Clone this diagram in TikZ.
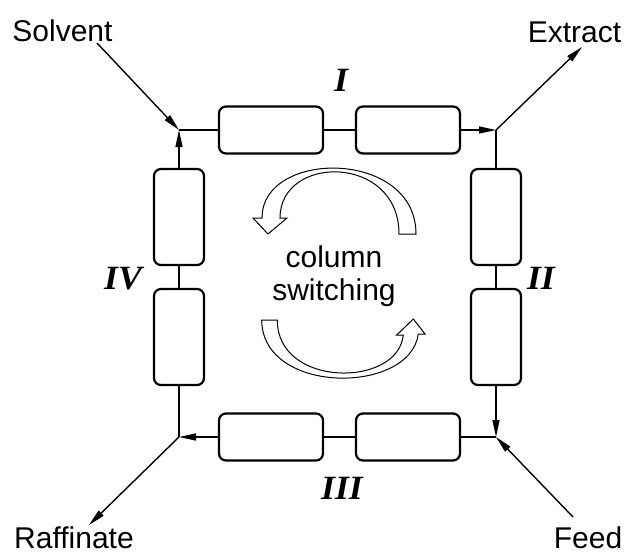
\documentclass[tikz,border=0pt]{standalone}
\usepackage{fontspec}
\setmainfont{Liberation Sans}
\newfontfamily\romanf{Liberation Serif}
\usetikzlibrary{arrows.meta}
\tikzset{
  hbox/.style={draw, rounded corners=7pt, line width=2.2pt, minimum width=104pt, minimum height=47pt, inner sep=0pt},
  vbox/.style={draw, rounded corners=7pt, line width=2.2pt, minimum width=50pt, minimum height=96pt, inner sep=0pt},
  conn/.style={line width=1.4pt},
  flow/.style={line width=1.4pt, -{Triangle[length=17pt,width=7pt]}},
  lbl/.style={font=\fontsize{30}{34}\selectfont, inner sep=0pt, anchor=base},
  zone/.style={font=\fontsize{34}{38}\selectfont\romanf\bfseries\itshape, inner sep=0pt, anchor=base, xscale=1.05},
  swarrow/.style={draw, line width=1pt, fill=white, line join=miter}
}
\begin{document}
\begin{tikzpicture}[x=1pt,y=-1pt]
\useasboundingbox (0,0) rectangle (624,554);
% junctions
\coordinate (TL) at (179,130);
\coordinate (TR) at (496,130);
\coordinate (BL) at (179,437);
\coordinate (BR) at (496,437);
% columns
\node[hbox] (t1) at (271,130) {};
\node[hbox] (t2) at (408,130) {};
\node[hbox] (b1) at (271,437) {};
\node[hbox] (b2) at (408,437) {};
\node[vbox] (l1) at (179,217) {};
\node[vbox] (l2) at (179,337) {};
\node[vbox] (r1) at (496,217) {};
\node[vbox] (r2) at (496,337) {};
% loop connectors
\draw[conn] (TL) -- (t1.west);
\draw[conn] (t1.east) -- (t2.west);
\draw[flow] (t2.east) -- (TR);
\draw[conn] (TR) -- (r1.north);
\draw[conn] (r1.south) -- (r2.north);
\draw[flow] (r2.south) -- (BR);
\draw[conn] (BR) -- (b2.east);
\draw[conn] (b2.west) -- (b1.east);
\draw[flow] (b1.west) -- (BL);
\draw[conn] (BL) -- (l2.south);
\draw[conn] (l2.north) -- (l1.south);
\draw[flow] (l1.north) -- (TL);
% external streams
\node[lbl] (solvent) at (62.5,41) {Solvent};
\node[lbl] (extract) at (574.5,42) {Extract};
\node[lbl] (raffinate) at (74,548) {Raffinate};
\node[lbl] (feed) at (588,548) {Feed};
\coordinate (sol) at (97,43);
\coordinate (ext) at (582,47);
\coordinate (raf) at (89,525);
\coordinate (fee) at (573,517);
\draw[flow] (sol) -- (TL);
\draw[flow] (TR) -- (ext);
\draw[flow] (BL) -- (raf);
\draw[flow] (fee) -- (BR);
% zone labels
\node[zone] (zI) at (341,91) {I};
\node[zone] (zII) at (541,289) {II};
\node[zone] (zIII) at (342,499) {III};
\node[zone] (zIV) at (123,289) {IV};
% column switching
\node[lbl] (cs1) at (334,267) {column};
\node[lbl] (cs2) at (334,300) {switching};
% curved arrows
\draw[swarrow] (399,234) -- (416,234) .. controls (416,149) and (262,149) .. (262,218)
  -- (253,218) -- (268,234) -- (287,218) -- (280,218)
  .. controls (280,154) and (399,154) .. (399,234) -- cycle;
\draw[swarrow] (261.7,320) .. controls (262,395) and (410,395) .. (418.3,334)
  -- (425,334) -- (413.3,319) -- (396.7,335) -- (403.3,335)
  .. controls (398,388) and (277,388) .. (277.3,320) -- cycle;
\end{tikzpicture}
\end{document}
